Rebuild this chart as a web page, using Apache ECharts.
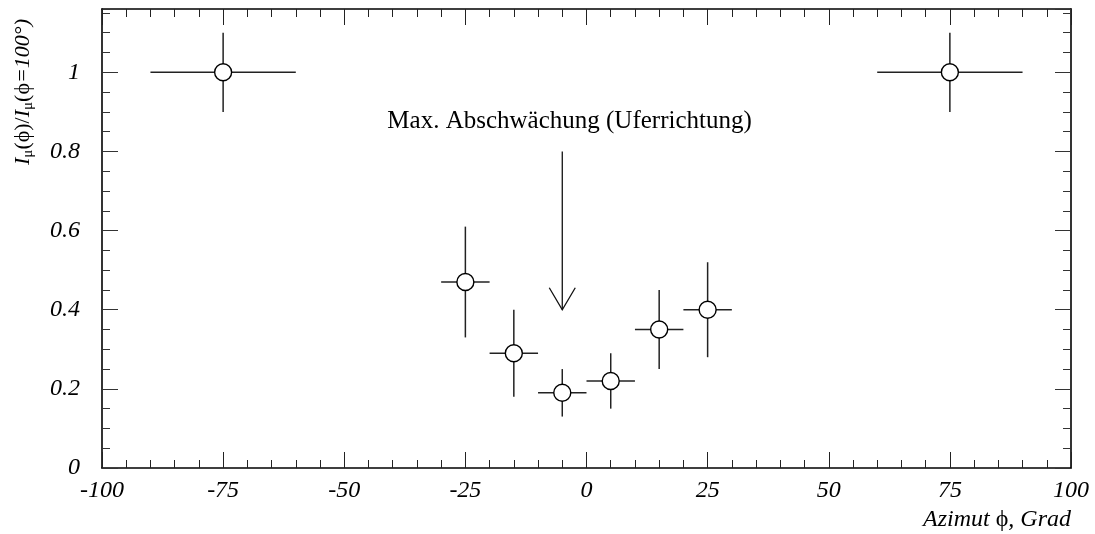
<!DOCTYPE html>
<html>
<head>
<meta charset="utf-8">
<script src="https://cdn.jsdelivr.net/npm/echarts@6/dist/echarts.min.js"></script>
<style>
html,body{margin:0;padding:0;background:#fff;}
#c{width:1095px;height:534px;}
</style>
</head>
<body>
<div id="c"></div>
<script>
// ---- data ----
const phi      = [-75, -25, -15, -5, 5, 15, 25, 75];
const ratio    = [1.00, 0.47, 0.29, 0.19, 0.22, 0.35, 0.40, 1.00];
const phiErr   = [15, 5, 5, 5, 5, 5, 5, 15];
const ratioErr = [0.10, 0.14, 0.11, 0.06, 0.07, 0.10, 0.12, 0.10];
const arrowPhi  = [-5];
const arrowFrom = [0.80];
const arrowTo   = [0.40];
const noteText  = ['Max. Abschwächung (Uferrichtung)'];
const notePhi   = [-3.5];
const noteY     = [0.876];
const xRange = [-100, 100];
const yRange = [0, 1.16];

const SERIF = '"Liberation Serif", "Times New Roman", "DejaVu Serif", serif';

const points = phi.map((p, i) => [p, ratio[i], phiErr[i], ratioErr[i]]);
const arrows = arrowPhi.map((p, i) => [p, arrowFrom[i], arrowTo[i]]);
const notes  = noteText.map((t, i) => [notePhi[i], noteY[i], t]);

function xAxisCfg(pos, showLabel) {
  return {
    type: 'value', position: pos, min: xRange[0], max: xRange[1], interval: 25,
    axisLine: {show: true, onZero: false, lineStyle: {color: '#000', width: 1.6}},
    axisTick: {show: true, inside: true, length: 16, lineStyle: {color: '#222', width: 1}},
    minorTick: {show: true, splitNumber: 5, length: 8, lineStyle: {color: '#222', width: 1}},
    splitLine: {show: false},
    axisLabel: {show: showLabel, fontFamily: SERIF, fontStyle: 'italic', fontSize: 24, color: '#000', margin: 11}
  };
}
function yAxisCfg(pos, interval, len, showLabel, showLine) {
  return {
    type: 'value', position: pos, min: yRange[0], max: yRange[1], interval: interval,
    axisLine: {show: showLine, onZero: false, lineStyle: {color: '#000', width: 1.6}},
    axisTick: {show: true, inside: true, length: len, lineStyle: {color: '#333', width: 1}},
    splitLine: {show: false},
    axisLabel: {show: showLabel, showMaxLabel: false, fontFamily: SERIF, fontStyle: 'italic', fontSize: 24, color: '#000', margin: 22}
  };
}

const chart = echarts.init(document.getElementById('c'), null, {renderer: 'canvas'});
chart.setOption({
  animation: false,
  backgroundColor: '#fff',
  grid: {left: 102, right: 24, top: 9, bottom: 66, containLabel: false},
  xAxis: [xAxisCfg('bottom', true), xAxisCfg('top', false)],
  yAxis: [
    yAxisCfg('left', 0.2, 16, true, true),
    yAxisCfg('left', 0.05, 8, false, false),
    yAxisCfg('right', 0.2, 16, false, true),
    yAxisCfg('right', 0.05, 8, false, false)
  ],
  graphic: [
    {
      type: 'text', x: 23, y: 92, rotation: Math.PI / 2,
      style: {
        text: '{i|I}{s|μ}{n|(}{p|ϕ}{n|)/}{i|I}{s|μ}{n|(}{p|ϕ}{i|=100°)}',
        align: 'center', verticalAlign: 'middle',
        rich: {
          i: {fontFamily: SERIF, fontStyle: 'italic', fontSize: 22, lineHeight: 26, verticalAlign: 'middle', fill: '#000'},
          n: {fontFamily: SERIF, fontSize: 22, lineHeight: 26, verticalAlign: 'middle', fill: '#000'},
          p: {fontFamily: SERIF, fontSize: 22, lineHeight: 26, verticalAlign: 'middle', fill: '#000'},
          s: {fontFamily: SERIF, fontSize: 15, lineHeight: 15, verticalAlign: 'bottom', fill: '#000'}
        }
      }
    },
    {
      type: 'text', right: 24, top: 508,
      style: {
        text: '{i|Azimut }{p|ϕ}{i|, Grad}',
        rich: {
          i: {fontFamily: SERIF, fontStyle: 'italic', fontSize: 24, fill: '#000'},
          p: {fontFamily: SERIF, fontSize: 24, fill: '#000'}
        }
      }
    }
  ],
  series: [
    {
      type: 'custom', xAxisIndex: 0, yAxisIndex: 0, data: points, z: 2,
      renderItem: function (params, api) {
        const x = api.value(0), y = api.value(1), ex = api.value(2), ey = api.value(3);
        const l = api.coord([x - ex, y]), r = api.coord([x + ex, y]);
        const t = api.coord([x, y + ey]), b = api.coord([x, y - ey]);
        const st = {stroke: '#222', lineWidth: 1.5};
        return {type: 'group', children: [
          {type: 'line', shape: {x1: l[0], y1: l[1], x2: r[0], y2: r[1]}, style: st},
          {type: 'line', shape: {x1: t[0], y1: t[1], x2: b[0], y2: b[1]}, style: st}
        ]};
      }
    },
    {
      type: 'scatter', xAxisIndex: 0, yAxisIndex: 0, z: 5,
      data: phi.map((p, i) => [p, ratio[i]]),
      symbol: 'circle', symbolSize: 17,
      itemStyle: {color: '#fff', borderColor: '#000', borderWidth: 1.4, opacity: 1}
    },
    {
      type: 'custom', xAxisIndex: 0, yAxisIndex: 0, data: arrows, z: 3,
      renderItem: function (params, api) {
        const s = api.coord([api.value(0), api.value(1)]);
        const e = api.coord([api.value(0), api.value(2)]);
        const st = {stroke: '#111', lineWidth: 1.3, fill: null};
        return {type: 'group', children: [
          {type: 'line', shape: {x1: s[0], y1: s[1], x2: e[0], y2: e[1]}, style: st},
          {type: 'polyline', shape: {points: [[e[0] - 13, e[1] - 22], [e[0], e[1]], [e[0] + 13, e[1] - 22]]}, style: st}
        ]};
      }
    },
    {
      type: 'custom', xAxisIndex: 0, yAxisIndex: 0, data: notes, z: 3,
      dimensions: ['x', 'y', {name: 't', type: 'ordinal'}],
      renderItem: function (params, api) {
        const i = params.dataIndex;
        const p = api.coord([notes[i][0], notes[i][1]]);
        return {type: 'text', x: p[0], y: p[1], style: {
          text: notes[i][2], fill: '#000', font: '25px ' + SERIF,
          align: 'center', verticalAlign: 'middle'
        }};
      }
    }
  ]
});
</script>
</body>
</html>
